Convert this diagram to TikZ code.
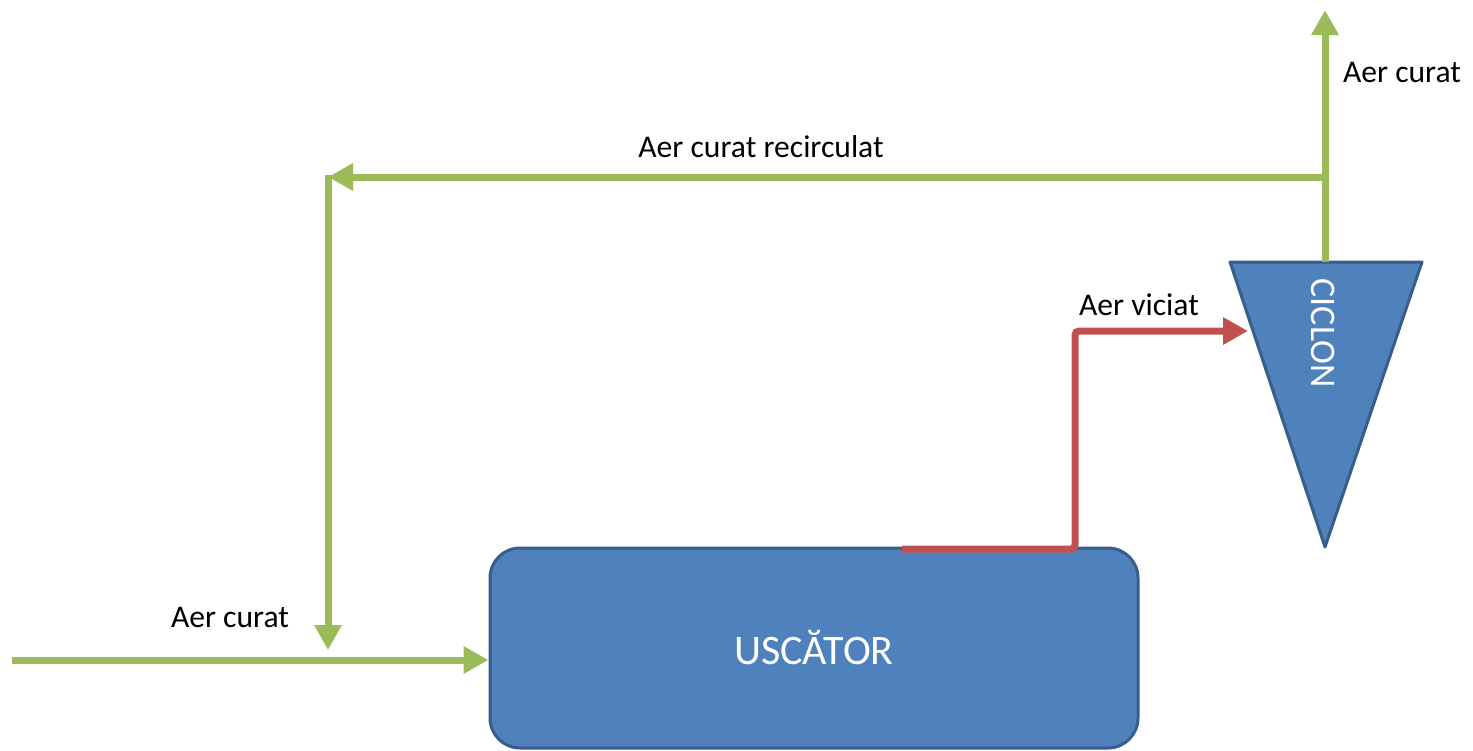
\documentclass[tikz,border=0pt]{standalone}
\usepackage{fontspec}
\setmainfont{Carlito}
\usetikzlibrary{arrows.meta,calc}
\definecolor{boxfill}{HTML}{4F81BD}
\definecolor{boxline}{HTML}{385D8A}
\definecolor{airgreen}{HTML}{9BBB59}
\definecolor{airred}{HTML}{C0504D}
\tikzset{
  greenflow/.style={draw=airgreen, line width=3.5pt, -{Triangle[length=12.5pt,width=13pt]}},
  greenline/.style={draw=airgreen, line width=3.5pt},
  redflow/.style={draw=airred, line width=3.5pt, rounded corners=2pt, -{Triangle[length=12.5pt,width=13pt]}},
  label/.style={font=\fontsize{15.8pt}{19pt}\selectfont, text=black, inner sep=0pt},
  unit/.style={draw=boxline, fill=boxfill, line width=1.5pt}
}
\begin{document}
\begin{tikzpicture}[x=0.5pt,y=-0.5pt]
\useasboundingbox (0,0) rectangle (1473,750);
% dryer
\node[unit, rounded corners=15pt, minimum width=324pt, minimum height=100pt, inner sep=0pt,
      text=white, font=\fontsize{21pt}{25pt}\selectfont] (usc) at (814,648) {USCĂTOR};
% cyclone
\coordinate (cl) at (1230,262);
\coordinate (cr) at (1422,262);
\coordinate (cb) at (1325,547);
\coordinate (ctop) at (1325,262);
\coordinate (cin) at (1248,331);
\draw[unit, line join=round] (cl) -- (cr) -- (cb) -- cycle;
\node[text=white, rotate=-90, font=\fontsize{18pt}{22pt}\selectfont, inner sep=0pt] (cic) at (1323,333) {CICLON};
% coordinates
\coordinate (inlet) at (12,660);
\coordinate (outtop) at (1325,10);
\coordinate (split) at (1325,177);
\coordinate (corner) at (328,177);
\coordinate (drop) at (328,650);
\coordinate (redstart) at (902,549);
\coordinate (redup) at (1075,549);
\coordinate (redtop) at (1075,331);
% green flows
\draw[greenflow] (inlet) -- (usc.west |- inlet);
\draw[greenflow] (ctop) -- (outtop);
\draw[greenflow] (split) -- (corner);
\draw[greenline] ($(corner)+(0,-2)$) -- ($(corner)+(0,3)$);
\draw[greenflow] (corner) -- (drop);
% red flow
\draw[redflow] (redstart) -- (redup) -- (redtop) -- (cin);
% labels
\node[label] (l1) at (1402,72) {Aer curat};
\node[label] (l2) at (761,147) {Aer curat recirculat};
\node[label] (l3) at (1139,305) {Aer viciat};
\node[label] (l4) at (230,617) {Aer curat};
\end{tikzpicture}
\end{document}
